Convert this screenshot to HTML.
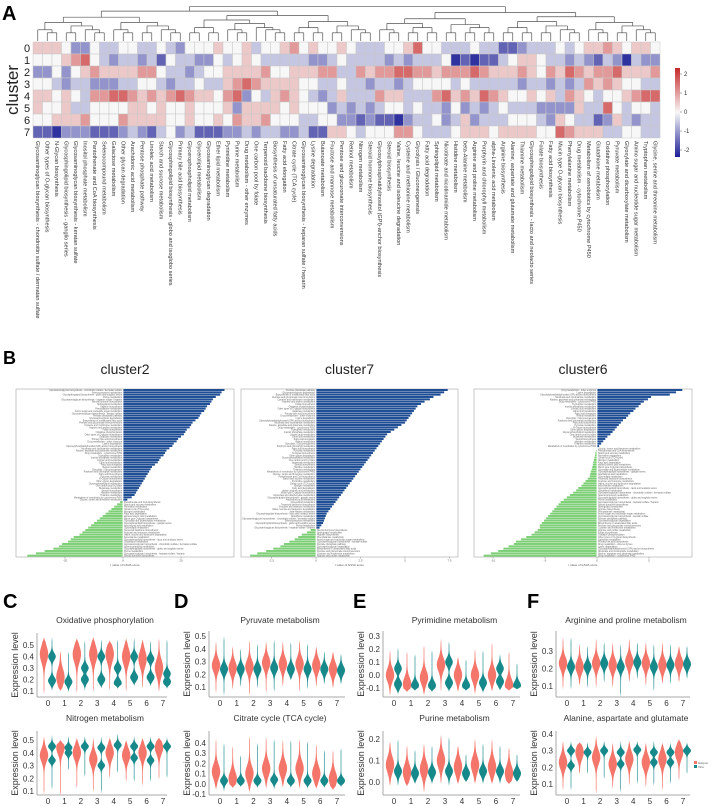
<!DOCTYPE html>
<html><head><meta charset="utf-8"><style>
html,body{margin:0;padding:0;background:#fff;}
svg{display:block;font-family:"Liberation Sans",Arial,sans-serif;}
</style></head><body>
<svg id="fig" width="708" height="806" viewBox="0 0 708 806" xmlns="http://www.w3.org/2000/svg">
<defs>
<linearGradient id="cbar" x1="0" y1="0" x2="0" y2="1">
<stop offset="0" stop-color="#c62a2a"/><stop offset="0.5" stop-color="#f7f7f7"/><stop offset="1" stop-color="#1c1e96"/>
</linearGradient>
</defs>
<rect x="0" y="0" width="708" height="806" fill="#fff"/>
<text x="2" y="20" font-size="20" font-weight="bold">A</text>
<text x="3" y="364" font-size="18" font-weight="bold">B</text>
<text x="3" y="608" font-size="20" font-weight="bold">C</text>
<text x="174" y="608" font-size="20" font-weight="bold">D</text>
<text x="353" y="608" font-size="20" font-weight="bold">E</text>
<text x="527" y="608" font-size="20" font-weight="bold">F</text>
<text transform="translate(18,90) rotate(-90)" font-size="17" text-anchor="middle" fill="#222">cluster</text>
<g id="hm"></g>
<g id="dendro"></g>
<g id="collabels"></g>
<g id="cb">
<rect x="675" y="68" width="5" height="89" fill="url(#cbar)"/>
</g>
<g id="gsva"></g>
<g id="vio"></g>
<g>
<rect x="694" y="761" width="3" height="3" fill="#f4756a"/>
<rect x="694" y="765" width="3" height="3" fill="#17898b"/>
<text x="698" y="764" font-size="2.5" fill="#666">Malignant</text>
<text x="698" y="768" font-size="2.5" fill="#666">Other</text>
</g>
</svg>
<script>
const NS='http://www.w3.org/2000/svg';
// ---------- Heatmap data ----------
const pathwayNames=["Glycosaminoglycan biosynthesis - chondroitin sulfate / dermatan sulfate","Other types of O-glycan biosynthesis","N-Glycan biosynthesis","Glycosphingolipid biosynthesis - ganglio series","Glycosaminoglycan biosynthesis - keratan sulfate","Inositol phosphate metabolism","Pantothenate and CoA biosynthesis","Selenocompound metabolism","Galactose metabolism","Other glycan degradation","Arachidonic acid metabolism","Pentose phosphate pathway","Linoleic acid metabolism","Starch and sucrose metabolism","Glycosphingolipid biosynthesis - globo and isoglobo series","Primary bile acid biosynthesis","Glycerophospholipid metabolism","Glycerolipid metabolism","Glycosaminoglycan degradation","Ether lipid metabolism","Pyrimidine metabolism","Purine metabolism","Drug metabolism - other enzymes","One carbon pool by folate","Terpenoid backbone biosynthesis","Biosynthesis of unsaturated fatty acids","Fatty acid elongation","Citrate cycle (TCA cycle)","Glycosaminoglycan biosynthesis - heparan sulfate / heparin","Lysine degradation","Butanoate metabolism","Fructose and mannose metabolism","Pentose and glucuronate interconversions","Retinol metabolism","Nitrogen metabolism","Steroid hormone biosynthesis","Glycosylphosphatidylinositol (GPI)-anchor biosynthesis","Steroid biosynthesis","Valine, leucine and isoleucine degradation","Cysteine and methionine metabolism","Glycolysis / Gluconeogenesis","Fatty acid degradation","Sphingolipid metabolism","Nicotinate and nicotinamide metabolism","Histidine metabolism","beta-Alanine metabolism","Arginine and proline metabolism","Porphyrin and chlorophyll metabolism","alpha-Linolenic acid metabolism","Arginine biosynthesis","Alanine, aspartate and glutamate metabolism","Thiamine metabolism","Glycosphingolipid biosynthesis - lacto and neolacto series","Folate biosynthesis","Fatty acid biosynthesis","Mucin type O-glycan biosynthesis","Phenylalanine metabolism","Drug metabolism - cytochrome P450","Metabolism of xenobiotics by cytochrome P450","Glutathione metabolism","Oxidative phosphorylation","Pyruvate metabolism","Glyoxylate and dicarboxylate metabolism","Amino sugar and nucleotide sugar metabolism","Tryptophan metabolism","Glycine, serine and threonine metabolism"];
const clusterLabels=["0","1","2","3","4","5","6","7"];
// a=-2 ... e=0 ... i=+2 (step 0.5)
const hmRow0="fffecceddee"+"ddedceeefee"+"fdeefgefeef"+"edddeefheed"+"ddeddbbcddd"+"edeffgfeffe";
const hmRow1="eeefghedcdd"+"cdbeddccede"+"fedddddccde"+"ddddcdcddde"+"ababbdeffed"+"dcdcbdcadcc";
const hmRow2="ccecefgffff"+"ggeddcdeeff"+"ffgeefffggd"+"dgfgghhggfg"+"gghgfffgfeg"+"fhgfgghfffg";
const hmRow3="eedcddcccdd"+"eedcddeddfg"+"hgffffeedde"+"ddcddcdeeee"+"dedddddcddc"+"dcdgfgfeedd";
const hmRow4="ffefedgghhg"+"fgfghgffegh"+"cedfgfedcdf"+"dddgffdddgh"+"fgfhgfeefef"+"dgfedeefghh";
const hmRow5="feefddeeeef"+"fefeefeeefc"+"ffffefeeecd"+"cdcdeededdc"+"ecdcdedddcc"+"ccfddhedeed";
const hmRow6="eefffgeeegf"+"fffeefeefeg"+"ffgeeeddeec"+"cbcbbacddec"+"dfcdddeeedc"+"feddbcfdcdd";
const hmRow7="bbacccbbbcd"+"cbdecdbbbcc"+"dcddccdbbff"+"edeeeggeddd"+"efffeffffee"+"hgfffddeedd";
const hmRows=[hmRow0,hmRow1,hmRow2,hmRow3,hmRow4,hmRow5,hmRow6,hmRow7];
const cbTicks=[2,1,0,-1,-2];

// ---------- GSVA bar data ----------
const c2Pos=[35,34,33.5,32,31,30.5,30,29,28.5,28,27,26.5,26,25,24,23.5,23,22,21.5,21,20,19,18.5,17.5,17,16,15,14.5,14,13,12.5,12,11,10,9.5,9,8.5,8,7.5,7,6.5,6,5.5,5,4.5,4,3,1.5];
const c2Neg=[-1,-2,-3,-4,-5,-6,-7,-8,-9,-10,-11,-12,-13,-14,-15,-17,-18,-19,-21,-22,-24,-27,-30,-33];
const c7Pos=[7.4,7.2,7.0,6.6,6.4,6.1,5.9,5.7,5.6,5.5,5.4,5.3,5.2,5.1,5.0,4.8,4.6,4.4,4.2,4.0,3.9,3.8,3.7,3.6,3.5,3.4,3.3,3.2,3.1,3.0,2.9,2.8,2.7,2.6,2.5,2.4,2.3,2.2,2.1,2.0,1.9,1.8,1.7,1.6,1.5,1.4,1.3,1.2,1.1,1.0,0.9,0.8,0.7,0.6,0.55,0.5,0.45,0.4,0.3,0.2];
const c7Neg=[-0.3,-0.5,-0.8,-1.0,-1.2,-1.5,-1.8,-2.0,-2.4,-2.8,-3.3,-3.7];
const c6Pos=[8.2,7.6,7.0,5.2,4.9,4.5,4.2,4.0,3.7,3.5,3.2,3.0,2.8,2.5,2.3,2.1,1.9,1.7,1.5,1.3,1.0,0.8,0.6,0.4,0.2];
const c6Neg=[-0.05,-0.1,-0.15,-0.2,-0.25,-0.3,-0.35,-0.4,-0.45,-0.5,-0.6,-0.65,-0.7,-0.9,-1.1,-1.3,-1.5,-1.8,-2.0,-2.3,-2.6,-2.9,-3.2,-3.5,-3.7,-3.9,-4.1,-4.3,-4.5,-4.7,-4.9,-5.1,-5.3,-5.5,-5.5,-5.7,-6.0,-6.3,-6.8,-7.3,-7.8,-8.0,-8.5,-9.0,-9.5,-10.2,-10.9];
const c2Ticks=[-20,0,20];
const c7Ticks=[-2.5,0,2.5,5,7.5];
const c6Ticks=[-10,-5,0,5];

// ---------- Violin data ----------
const vioClusters=[0,1,2,3,4,5,6,7];
const oxRed=[0.42,0.22,0.42,0.42,0.42,0.40,0.38,0.30], oxRedLo=[0.07,0.10,0.08,0.09,0.10,0.09,0.12,0.09], oxRedHi=[0.57,0.45,0.56,0.57,0.54,0.56,0.55,0.56];
const oxTeal=[0.19,0.18,0.20,0.20,0.17,0.22,0.22,0.18], oxTeal2=[0.40,0.00,0.30,0.40,0.30,0.40,0.38,0.25], oxTealLo=[0.10,0.09,0.10,0.12,0.12,0.14,0.14,0.12], oxTealHi=[0.57,0.44,0.54,0.55,0.55,0.56,0.54,0.55];
const niRed=[0.38,0.44,0.40,0.35,0.40,0.38,0.40,0.44], niRedLo=[0.07,0.06,0.12,0.09,0.20,0.17,0.14,0.19], niRedHi=[0.53,0.50,0.52,0.52,0.52,0.50,0.52,0.52];
const niTeal=[0.45,0.44,0.45,0.44,0.46,0.45,0.45,0.45], niTeal2=[0.34,0.40,0.00,0.30,0.00,0.36,0.34,0.00], niTealLo=[0.11,0.26,0.21,0.08,0.24,0.17,0.17,0.20], niTealHi=[0.54,0.53,0.53,0.53,0.55,0.53,0.53,0.52];
const pyRed=[0.27,0.25,0.26,0.29,0.28,0.28,0.27,0.24], pyRedLo=[0.05,0.08,0.03,0.05,0.10,0.06,0.10,0.09], pyRedHi=[0.46,0.42,0.47,0.46,0.46,0.47,0.42,0.38];
const pyTeal=[0.24,0.24,0.24,0.25,0.24,0.24,0.24,0.23], pyTeal2=[0,0,0,0,0,0,0,0], pyTealLo=[0.03,0.10,0.09,0.06,0.15,0.08,0.12,0.12], pyTealHi=[0.50,0.40,0.44,0.47,0.45,0.44,0.38,0.36];
const tcRed=[0.12,0.05,0.10,0.15,0.15,0.15,0.10,0.05], tcRedLo=[-0.06,-0.04,-0.09,-0.05,-0.04,-0.05,-0.05,-0.06], tcRedHi=[0.44,0.37,0.47,0.46,0.43,0.44,0.39,0.33];
const tcTeal=[0.03,0.03,0.03,0.04,0.03,0.03,0.03,0.03], tcTeal2=[0,0,0,0,0,0,0,0], tcTealLo=[-0.08,-0.03,-0.04,-0.06,-0.04,-0.05,-0.04,-0.03], tcTealHi=[0.40,0.28,0.40,0.44,0.43,0.42,0.33,0.35];
const prRed=[0.00,-0.07,-0.02,0.08,0.00,0.00,0.00,-0.08], prRedLo=[-0.16,-0.13,-0.16,-0.13,-0.13,-0.15,-0.13,-0.12], prRedHi=[0.19,0.18,0.23,0.28,0.14,0.20,0.25,0.18];
const prTeal=[-0.07,-0.08,-0.08,-0.06,-0.08,-0.06,-0.05,-0.08], prTeal2=[0.05,0,0,0.1,0,0,0.05,0], prTealLo=[-0.15,-0.12,-0.13,-0.13,-0.12,-0.14,-0.12,-0.11], prTealHi=[0.21,0.16,0.19,0.26,0.12,0.19,0.16,0.09];
const puRed=[0.08,0.045,0.06,0.10,0.07,0.08,0.07,0.04], puRedLo=[-0.02,-0.02,-0.05,-0.01,-0.01,-0.01,-0.01,-0.01], puRedHi=[0.19,0.17,0.18,0.22,0.17,0.20,0.20,0.16];
const puTeal=[0.05,0.04,0.045,0.05,0.04,0.05,0.05,0.04], puTeal2=[0,0,0,0,0,0,0,0], puTealLo=[-0.02,-0.01,-0.01,-0.02,0.00,-0.01,-0.01,0.00], puTealHi=[0.20,0.15,0.17,0.21,0.13,0.18,0.17,0.13];
const arRed=[0.23,0.21,0.23,0.22,0.24,0.23,0.22,0.23], arRedLo=[0.08,0.10,0.09,0.09,0.12,0.10,0.11,0.12], arRedHi=[0.38,0.34,0.37,0.35,0.37,0.35,0.35,0.33];
const arTeal=[0.21,0.21,0.23,0.21,0.235,0.21,0.22,0.225], arTeal2=[0,0,0,0,0,0,0,0], arTealLo=[0.08,0.09,0.12,0.04,0.14,0.07,0.11,0.14], arTealHi=[0.38,0.33,0.35,0.34,0.35,0.34,0.34,0.33];
const alRed=[0.23,0.29,0.26,0.22,0.25,0.23,0.25,0.29], alRedLo=[0.06,0.16,0.04,0.07,0.09,0.08,0.06,0.12], alRedHi=[0.36,0.35,0.39,0.35,0.36,0.35,0.35,0.37];
const alTeal=[0.30,0.29,0.30,0.29,0.305,0.29,0.29,0.30], alTeal2=[0.21,0,0,0.22,0,0.23,0.23,0], alTealLo=[0.06,0.16,0.13,0.05,0.10,0.09,0.10,0.16], alTealHi=[0.36,0.35,0.36,0.36,0.36,0.36,0.35,0.35];

function mk(tag,parent){const e=document.createElementNS(NS,tag);parent.appendChild(e);return e;}
function txt(parent,x,y,s,size,anchor,fill){const t=mk('text',parent);t.setAttribute('x',x);t.setAttribute('y',y);t.setAttribute('font-size',size);t.setAttribute('text-anchor',anchor||'start');t.setAttribute('fill',fill||'#222');t.textContent=s;return t;}

// ---------- Heatmap ----------
const hmLeft=33,hmRight=660,hmTop=42,rowH=12,nCols=pathwayNames.length;
const cw=(hmRight-hmLeft)/nCols;
function hmVal(ch){const k='abcdefghi'.indexOf(ch);return k<0?0:(k-4)*0.5;}
function colX(j){return hmLeft+j*cw;}
function rowY(i){return hmTop+i*rowH;}
function valColor(v){const t=Math.max(-1,Math.min(1,v/2.2));const w=[247,247,247];let c;
 if(t>=0){const r=[198,40,40];c=w.map((a,k)=>Math.round(a+(r[k]-a)*t));}else{const b=[28,30,150];c=w.map((a,k)=>Math.round(a+(b[k]-a)*(-t)));}
 return 'rgb('+c.join(',')+')';}
const hm=document.getElementById('hm');
hmRows.forEach((row,i)=>{
 for(let j=0;j<nCols;j++){
  const r=mk('rect',hm);
  
  
  r.setAttribute('x',colX(j));r.setAttribute('y',rowY(i));r.setAttribute('width',cw);r.setAttribute('height',rowH);
  r.setAttribute('fill',valColor(hmVal(row.charAt(j))));r.setAttribute('stroke','#c8c8c8');r.setAttribute('stroke-width','0.5');
 }
 const l=txt(hm,27,rowY(i)+rowH/2+4,clusterLabels[i],11,'middle','#222');
 
 
});
const cl=document.getElementById('collabels');
pathwayNames.forEach((n,j)=>{
 const t=mk('text',cl);
 
 
 t.setAttribute('transform','translate('+(colX(j)+cw/2-2)+','+(hmTop+8*rowH+3)+') rotate(90)');
 t.setAttribute('font-size','5.6');t.setAttribute('fill','#333');t.textContent=n;
});
// dendrogram
const dg=document.getElementById('dendro');
function line(p,x1,y1,x2,y2){const l=mk('line',p);l.setAttribute('x1',x1);l.setAttribute('y1',y1);l.setAttribute('x2',x2);l.setAttribute('y2',y2);l.setAttribute('stroke','#555');l.setAttribute('stroke-width','0.7');return l;}
function build(a,b,depth){
 if(a===b)return {x:colX(a)+cw/2,y:hmTop-1};
 const size=b-a+1;const m=a+Math.floor(size*(depth%2?0.45:0.55))-1;const mm=Math.max(a,Math.min(b-1,m));
 const L=build(a,mm,depth+1),R=build(mm+1,b,depth+1);
 const y=hmTop-4-5.2*Math.log2(size);
 line(dg,L.x,L.y,L.x,y);line(dg,R.x,R.y,R.x,y);
 const h=line(dg,L.x,y,R.x,y);
 
 
 return {x:(L.x+R.x)/2,y:y};
}
build(0,nCols-1,0);
// colorbar ticks
const cb=document.getElementById('cb');
cbTicks.forEach(v=>{const y=112-v*19;const t=txt(cb,684,y+2,String(v),6,'start','#333');
 
 
 line(cb,680,y,682,y).setAttribute('stroke','#888');});

// ---------- GSVA panels ----------
const gsva=document.getElementById('gsva');
const gPanels=[
 {title:'cluster2',x0:16,x1:234,zero:123,unit:2.9,pos:c2Pos,neg:c2Neg,ticks:c2Ticks},
 {title:'cluster7',x0:241,x1:458,zero:316,unit:17.8,pos:c7Pos,neg:c7Neg,ticks:c7Ticks},
 {title:'cluster6',x0:474,x1:692,zero:597,unit:10.4,pos:c6Pos,neg:c6Neg,ticks:c6Ticks}];
const gTop=389,gBot=557;
gPanels.forEach((p,pi)=>{
 const g=mk('g',gsva);
 
 
 const tt=txt(g,(p.x0+p.x1)/2,374,p.title,14,'middle','#222');
 
 
 const box=mk('rect',g);box.setAttribute('x',p.x0);box.setAttribute('y',gTop);box.setAttribute('width',p.x1-p.x0);box.setAttribute('height',gBot-gTop);box.setAttribute('fill','none');box.setAttribute('stroke','#bbb');box.setAttribute('stroke-width','0.8');
 const all=p.pos.concat(p.neg);const bh=(gBot-gTop)/all.length;
 const xs=v=>p.zero+v*p.unit;
 all.forEach((v,i)=>{
  const r=mk('rect',g);
  
  
  const xa=Math.min(xs(0),xs(v));r.setAttribute('x',xa);r.setAttribute('y',gTop+i*bh);r.setAttribute('width',Math.abs(xs(v)-xs(0)));r.setAttribute('height',bh*0.85);
  r.setAttribute('fill',v>=0?'#1f4e94':'#7fcf78');
  const name=pathwayNames[(i*7+pi*11)%pathwayNames.length];
  const lt=txt(g,v>=0?xs(0)-1:xs(0)+1,gTop+i*bh+bh*0.85,name,2.3,v>=0?'end':'start','#666');
  
  
 });
 const zl=mk('line',g);zl.setAttribute('x1',xs(0));zl.setAttribute('x2',xs(0));zl.setAttribute('y1',gTop);zl.setAttribute('y2',gBot);zl.setAttribute('stroke','#fff');zl.setAttribute('stroke-width','0.8');
 p.ticks.forEach(v=>{const x=xs(v);line(g,x,gBot,x,gBot+1.5).setAttribute('stroke','#999');
  const t=txt(g,x,gBot+4.5,String(v),3,'middle','#666');
  
  });
 const at=txt(g,(p.x0+p.x1)/2,gBot+9,'t value of GSVA score',3,'middle','#555');
 
 
});

// ---------- Violin panels ----------
const vio=document.getElementById('vio');
const vPanels=[
 {t:'Oxidative phosphorylation',ax:37,t0:48,t7:163,end:167,base:697,top:633,ty:623,v1:0.5,p1:645,v2:0.1,p2:691,ticks:[0.1,0.2,0.3,0.4,0.5],r:[oxRed,oxRedLo,oxRedHi],b:[oxTeal,oxTeal2,oxTealLo,oxTealHi],rs:0.07,bs:0.03},
 {t:'Nitrogen metabolism',ax:37,t0:48,t7:163,end:167,base:795,top:731,ty:721,v1:0.5,p1:740,v2:0.1,p2:791,ticks:[0.1,0.2,0.3,0.4,0.5],r:[niRed,niRedLo,niRedHi],b:[niTeal,niTeal2,niTealLo,niTealHi],rs:0.05,bs:0.02},
 {t:'Pyruvate metabolism',ax:209,t0:220,t7:337,end:345,base:697,top:631,ty:623,v1:0.5,p1:636,v2:0.1,p2:687,ticks:[0.1,0.2,0.3,0.4,0.5],r:[pyRed,pyRedLo,pyRedHi],b:[pyTeal,pyTeal2,pyTealLo,pyTealHi],rs:0.05,bs:0.035},
 {t:'Citrate cycle (TCA cycle)',ax:209,t0:220,t7:337,end:345,base:795,top:731,ty:721,v1:0.4,p1:743,v2:-0.1,p2:794,ticks:[-0.1,0.0,0.1,0.2,0.3,0.4],r:[tcRed,tcRedLo,tcRedHi],b:[tcTeal,tcTeal2,tcTealLo,tcTealHi],rs:0.07,bs:0.03},
 {t:'Pyrimidine metabolism',ax:383,t0:394,t7:513,end:520,base:697,top:631,ty:623,v1:0.3,p1:636,v2:-0.1,p2:688,ticks:[-0.1,0.0,0.1,0.2,0.3],r:[prRed,prRedLo,prRedHi],b:[prTeal,prTeal2,prTealLo,prTealHi],rs:0.05,bs:0.03},
 {t:'Purine metabolism',ax:383,t0:394,t7:513,end:520,base:795,top:731,ty:721,v1:0.2,p1:739,v2:0.0,p2:782,ticks:[0.0,0.1,0.2],r:[puRed,puRedLo,puRedHi],b:[puTeal,puTeal2,puTealLo,puTealHi],rs:0.035,bs:0.02},
 {t:'Arginine and proline metabolism',ax:556,t0:567,t7:683,end:690,base:697,top:631,ty:623,v1:0.3,p1:651,v2:0.1,p2:686,ticks:[0.1,0.2,0.3],r:[arRed,arRedLo,arRedHi],b:[arTeal,arTeal2,arTealLo,arTealHi],rs:0.035,bs:0.025},
 {t:'Alanine, aspartate and glutamate',ax:556,t0:567,t7:683,end:690,base:795,top:731,ty:721,v1:0.4,p1:734,v2:0.1,p2:784,ticks:[0.1,0.2,0.3,0.4],r:[alRed,alRedLo,alRedHi],b:[alTeal,alTeal2,alTealLo,alTealHi],rs:0.04,bs:0.015}];
function violinPath(cx,m,m2,lo,hi,s,W,yS){
 const N=48,pts=[];
 for(let k=0;k<=N;k++){const v=hi-(hi-lo)*k/N;
  let d=Math.exp(-0.5*Math.pow((v-m)/s,2));
  if(m2)d=Math.max(d,0.95*Math.exp(-0.5*Math.pow((v-m2)/s,2)));
  d=d*0.92+0.08;
  const tp=Math.min(1,(v-lo)/((hi-lo)*0.08),(hi-v)/((hi-lo)*0.08));d*=Math.max(0,tp);
  pts.push([W*d,yS(v)]);}
 let p='M'+cx+','+yS(hi);
 pts.forEach(q=>p+=' L'+(cx+q[0]).toFixed(2)+','+q[1].toFixed(2));
 for(let k=pts.length-1;k>=0;k--)p+=' L'+(cx-pts[k][0]).toFixed(2)+','+pts[k][1].toFixed(2);
 return p+'Z';}
vPanels.forEach(P=>{
 const g=mk('g',vio);
 
 
 const yS=v=>P.p2+(v-P.v2)*(P.p1-P.p2)/(P.v1-P.v2);
 const xS=c=>P.t0+c*(P.t7-P.t0)/7;
 const tt=txt(g,(P.ax+P.end)/2+3,P.ty,P.t,8.5,'middle','#333');
 
 
 const yt=mk('text',g);
 
 
 yt.setAttribute('transform','translate('+(P.ax-19)+','+((P.top+P.base)/2)+') rotate(-90)');yt.setAttribute('font-size','9');yt.setAttribute('text-anchor','middle');yt.setAttribute('fill','#333');yt.textContent='Expression level';
 vioClusters.forEach((c,i)=>{
  const cx=xS(c);
  const pr=mk('path',g);
  
  
  pr.setAttribute('d',violinPath(cx-4,P.r[0][i],0,P.r[1][i],P.r[2][i],P.rs,4.2,yS));pr.setAttribute('fill','#f4756a');
  const pb=mk('path',g);
  
  
  pb.setAttribute('d',violinPath(cx+4,P.b[0][i],P.b[1][i],P.b[2][i],P.b[3][i],P.bs,4.0,yS));pb.setAttribute('fill','#17898b');
  const lt=txt(g,cx,P.base+9,String(c),8,'middle','#333');
  
  
 });
 P.ticks.forEach(v=>{const t=txt(g,P.ax-3,yS(v)+3,v.toFixed(1),8,'end','#333');
  
  });
 const ax=line(g,P.ax,P.top,P.ax,P.base);ax.setAttribute('stroke','#aaa');ax.setAttribute('stroke-width','1');
 const bx=line(g,P.ax,P.base,P.end,P.base);bx.setAttribute('stroke','#aaa');bx.setAttribute('stroke-width','1');
});
</script>
</body></html>
